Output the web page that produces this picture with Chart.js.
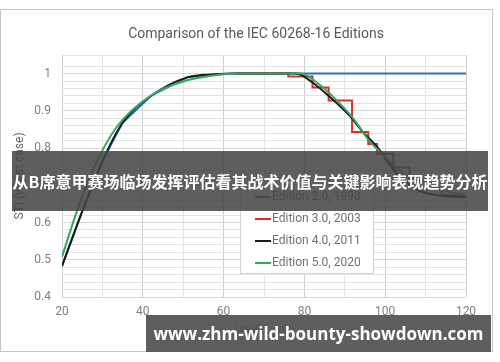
<!DOCTYPE html>
<html>
<head>
<meta charset="utf-8">
<script src="https://cdn.jsdelivr.net/npm/chart.js@4.4.1/dist/chart.umd.min.js"></script>
<style>
  body { margin: 0; width: 500px; height: 362px; overflow: hidden; position: relative; background: #fff; }
  #frame { position: absolute; left: 0; top: 9px; width: 491px; height: 341px; border: 1px solid #c6c6c6; }
  #c { position: absolute; left: 0; top: 0; }
  #banner {
    position: absolute; left: 12px; top: 151px; width: 476px; height: 60px;
    background: rgba(68, 68, 68, 0.86); color: #fff;
    font: bold 16px "Noto Sans CJK SC", sans-serif; line-height: 60px; text-align: center; white-space: nowrap;
  }
  #mark {
    position: absolute; left: 146px; top: 315px; width: 345px; height: 37px;
    background: rgba(80, 80, 80, 0.92); color: #fff;
    font: bold 17px "Open Sans", sans-serif; line-height: 37px; text-align: center; white-space: nowrap;
  }
</style>
</head>
<body>
<div id="frame"></div>
<canvas id="c" width="500" height="362"></canvas>
<div id="banner">从B席意甲赛场临场发挥评估看其战术价值与关键影响表现趋势分析</div>
<div id="mark">www.zhm-wild-bounty-showdown.com</div>
<script>
// series labels and colours
const seriesNames = ['Edition 2.0, 1998', 'Edition 3.0, 2003', 'Edition 4.0, 2011', 'Edition 5.0, 2020'];
const seriesColors = ['#2e75b6', '#d9302c', '#1a1a1a', '#33a860'];
const chartTitle = 'Comparison of the IEC 60268-16 Editions';

// Edition 2.0 (flat at 1 once it reaches the top)
const ed2Level = [20, 25, 30, 35, 42, 51, 58, 63, 120];
const ed2Sti   = [0.483, 0.63, 0.765, 0.868, 0.94, 0.99, 0.998, 1, 1];

// Edition 3.0 (stepped drop)
const ed3Level = [63, 76, 82, 86, 91.8, 95.8, 98, 102, 106, 110, 114, 120];
const ed3Sti   = [1, 0.992, 0.963, 0.928, 0.843, 0.811, 0.785, 0.748, 0.712, 0.69, 0.673, 0.673];

// Edition 4.0
const ed4Level = [20, 25, 30, 35, 42, 51, 58, 63, 78, 82, 86, 91, 94.5, 98, 103, 108, 113, 120];
const ed4Sti   = [0.483, 0.63, 0.765, 0.868, 0.94, 0.99, 0.998, 1, 1, 0.976, 0.94, 0.889, 0.843, 0.803, 0.73, 0.688, 0.673, 0.668];

// Edition 5.0
const ed5Level = [20, 24, 28, 33.5, 42, 51, 60, 64, 79, 84, 88, 92.5, 96, 99, 104.5, 111, 116, 120];
const ed5Sti   = [0.508, 0.64, 0.75, 0.856, 0.941, 0.982, 0.998, 1, 1, 0.968, 0.928, 0.874, 0.82, 0.787, 0.732, 0.70, 0.682, 0.674];

const xTicks = [20, 40, 60, 80, 100, 120];
const yTicks = [0.4, 0.5, 0.6, 0.7, 0.8, 0.9, 1];

function pts(xs, ys) {
    return xs.map((x, i) => ({ x: x, y: ys[i] }));
}

const isMajorY = v => yTicks.some(t => Math.abs(t - v) < 1e-6);

// title + legend box drawn on the canvas
const decorations = {
    id: 'decorations',
    afterDraw(chart) {
        const ctx = chart.ctx;
        ctx.save();
        ctx.fillStyle = '#595959';
        ctx.font = '14px Roboto';
        ctx.textAlign = 'center';
        ctx.textBaseline = 'middle';
        ctx.fillText(chartTitle, 256, 34);

        ctx.textAlign = 'left';
        ctx.fillStyle = '#fff';
        ctx.strokeStyle = '#d4d4d4';
        ctx.lineWidth = 1;
        ctx.fillRect(240.5, 184.5, 133, 89);
        ctx.strokeRect(240.5, 184.5, 133, 89);
        ctx.font = '12px Roboto';
        seriesNames.forEach((name, i) => {
            const y = 197 + i * 22;
            ctx.strokeStyle = seriesColors[i];
            ctx.lineWidth = 2;
            ctx.beginPath();
            ctx.moveTo(255, y);
            ctx.lineTo(271, y);
            ctx.stroke();
            ctx.fillStyle = '#707070';
            ctx.fillText(name, 272, y);
        });
        ctx.restore();
    }
};

const ds = (i, data, order, extra) => Object.assign({
    label: seriesNames[i],
    data: data,
    borderColor: seriesColors[i],
    backgroundColor: seriesColors[i],
    borderWidth: 2,
    pointRadius: 0,
    fill: false,
    order: order
}, extra || {});

new Chart(document.getElementById('c'), {
    type: 'line',
    data: {
        datasets: [
            ds(0, pts(ed2Level, ed2Sti), 3),
            ds(1, pts(ed3Level, ed3Sti), 2, { stepped: 'before' }),
            ds(2, pts(ed4Level, ed4Sti), 1, { cubicInterpolationMode: 'monotone' }),
            ds(3, pts(ed5Level, ed5Sti), 0, { cubicInterpolationMode: 'monotone' })
        ]
    },
    options: {
        responsive: false,
        animation: false,
        layout: { padding: { left: 0, right: 34, top: 55, bottom: 0 } },
        plugins: {
            legend: { display: false },
            tooltip: { enabled: false },
            title: { display: false }
        },
        scales: {
            x: {
                type: 'linear',
                min: 20,
                max: 120,
                afterFit: s => { s.height = 65; },
                border: { display: false },
                grid: {
                    drawTicks: false,
                    color: c => (xTicks.includes(c.tick.value) ? '#cfcfcf' : '#e3e3e3')
                },
                ticks: {
                    stepSize: 10,
                    padding: 8,
                    color: '#7f7f7f',
                    font: { family: 'Roboto', size: 12 },
                    callback: v => (xTicks.includes(v) ? v : '')
                },
                title: {
                    display: true,
                    text: 'Level L Aeq',
                    color: '#666',
                    font: { family: 'Roboto', size: 12 },
                    padding: { bottom: 25 }
                }
            },
            y: {
                min: 0.4,
                max: 1.05,
                afterFit: s => { s.width = 62; },
                border: { display: false },
                grid: {
                    drawTicks: false,
                    color: c => (isMajorY(c.tick.value) ? '#d6d6d6' : '#e3e3e3')
                },
                ticks: {
                    stepSize: 0.02,
                    padding: 11,
                    autoSkip: false,
                    color: '#7f7f7f',
                    font: { family: 'Roboto', size: 12 },
                    callback: v => (isMajorY(v) ? String(Math.round(v * 10) / 10) : '')
                },
                title: {
                    display: true,
                    text: 'STI (worst case)',
                    color: '#666',
                    font: { family: 'Roboto', size: 12 },
                    padding: { top: 13 }
                }
            }
        }
    },
    plugins: [decorations]
});
</script>
</body>
</html>
